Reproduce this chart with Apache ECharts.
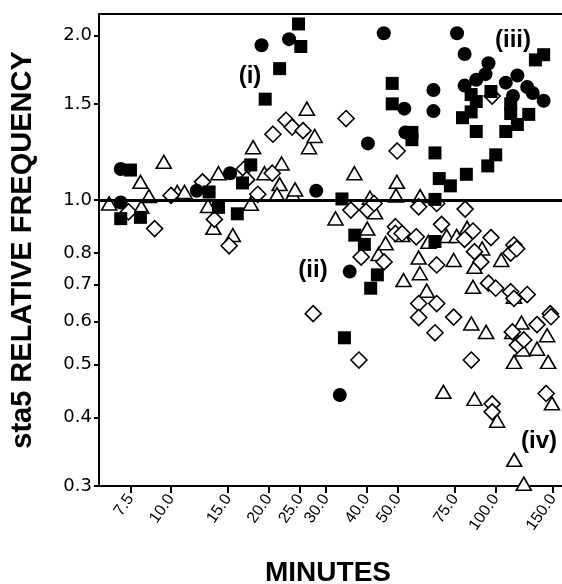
<!DOCTYPE html>
<html>
<head>
<meta charset="utf-8">
<script src="https://cdn.jsdelivr.net/npm/echarts@6/dist/echarts.min.js"></script>
<style>
html,body{margin:0;padding:0;background:#fff;}
#chart{width:562px;height:584px;}
</style>
</head>
<body>
<div id="chart"></div>
<script>
// ---- data (minutes, relative frequency) ----
const xTicks = [7.5, 10, 15, 20, 25, 30, 40, 50, 75, 100, 150];
const yTicks = [0.3, 0.4, 0.5, 0.6, 0.7, 0.8, 1.0, 1.5, 2.0];

const circleMin = [7.0, 7.0, 12.0, 15.2, 19.0, 23.1, 28.0, 33.1, 35.5, 40.4, 45.2, 52.3, 52.7, 64.3, 64.3, 76.0, 80.2, 80.2, 87.1, 93, 95, 107.4, 116.6, 125, 140.5, 113, 130];
const circleVal = [1.14, 0.99, 1.04, 1.12, 1.92, 1.97, 1.04, 0.44, 0.74, 1.27, 2.02, 1.47, 1.33, 1.59, 1.455, 2.02, 1.85, 1.62, 1.66, 1.70, 1.78, 1.64, 1.69, 1.61, 1.52, 1.55, 1.57];

const squareMin = [7.5, 7.0, 8.05, 13.1, 14.0, 16.0, 16.6, 17.6, 19.5, 21.6, 24.7, 25.1, 33.6, 34.2, 36.8, 39.4, 41.2, 43.2, 48.0, 48.0, 55.2, 55.2, 65, 65, 65, 67, 72.5, 81.2, 94.5, 100, 87.1, 79, 84, 87.1, 96.7, 107.4, 116.6, 126.4, 132.5, 140.5, 111.2, 111.2, 84];
const squareVal = [1.135, 0.925, 0.93, 1.035, 0.97, 0.944, 1.075, 1.16, 1.53, 1.74, 2.10, 1.91, 1.005, 0.56, 0.863, 0.83, 0.69, 0.73, 1.635, 1.50, 1.33, 1.29, 1.22, 1.003, 0.84, 1.095, 1.062, 1.115, 1.155, 1.21, 1.335, 1.415, 1.45, 1.515, 1.58, 1.335, 1.375, 1.435, 1.805, 1.845, 1.50, 1.44, 1.56];

const diamondMin = [7.4, 8.9, 10.0, 12.5, 13.6, 15.1, 16.8, 17.1, 18.5, 20.5, 20.6, 22.6, 23.6, 25.5, 27.4, 34.6, 35.8, 37.9, 38.5, 40.2, 42.2, 45.3, 49.1, 49.1, 51.5, 49.7, 56.9, 57.9, 57.9, 57.9, 65.8, 65.8, 65.8, 65, 68.1, 74.2, 80.5, 80.2, 84.1, 85.1, 86, 90, 96.7, 95, 100, 97.5, 97.5, 97.5, 111.2, 113.8, 113.8, 111.2, 116.0, 125, 112.5, 116.6, 122, 134, 147.2, 148, 143];
const diamondVal = [0.952, 0.887, 1.02, 1.08, 0.922, 0.825, 1.14, 1.09, 1.025, 1.12, 1.32, 1.40, 1.36, 1.34, 0.62, 1.41, 0.959, 0.51, 0.787, 0.959, 0.986, 0.771, 0.894, 0.869, 0.869, 1.23, 0.857, 0.972, 0.647, 0.61, 0.986, 0.761, 0.647, 0.572, 0.903, 0.611, 0.963, 0.848, 0.51, 0.878, 0.805, 0.771, 0.854, 0.705, 0.69, 0.424, 0.41, 1.55, 0.68, 0.661, 0.828, 0.80, 0.815, 0.672, 0.574, 0.543, 0.555, 0.592, 0.62, 0.612, 0.443];

const triangleMin = [6.45, 8.05, 8.1, 8.55, 9.5, 10.45, 11.0, 13.0, 13.5, 14.0, 15.5, 17.6, 17.9, 19.4, 21.9, 21.6, 21.2, 23.7, 24.1, 26.2, 26.6, 27.7, 32.1, 36.7, 40.2, 41.0, 42.5, 43.6, 45.8, 49.6, 49.3, 51.5, 52, 57.9, 58.4, 58.5, 61.3, 62, 70.6, 75.8, 74.2, 81.6, 86, 90.8, 104, 85.1, 113.8, 84.1, 93.4, 112.5, 120, 144, 113.8, 121, 134, 145, 69, 86, 101, 149, 114, 122];
const triangleVal = [0.986, 1.08, 0.972, 1.017, 1.175, 1.035, 1.035, 0.976, 0.89, 1.12, 0.863, 0.985, 1.25, 1.12, 1.167, 1.07, 1.025, 1.024, 1.046, 1.47, 1.25, 1.31, 0.926, 1.12, 0.887, 1.01, 0.95, 0.797, 0.834, 1.08, 1.02, 0.863, 0.714, 0.785, 0.735, 1.017, 0.683, 0.839, 0.86, 0.86, 0.777, 0.89, 0.755, 0.816, 0.777, 0.694, 0.666, 0.595, 0.574, 0.574, 0.597, 0.566, 0.506, 0.533, 0.535, 0.506, 0.446, 0.433, 0.395, 0.425, 0.335, 0.303];

const refLine = 1.0;
const xRange = [6.0, 160];
const yRange = [0.3, 2.19];

// ---- build ----
const L = Math.log10;
function pts(xs, ys) { return xs.map((x, i) => [L(x), L(ys[i])]); }
function fmt(v) { return Math.pow(10, v).toFixed(1); }

const chart = echarts.init(document.getElementById('chart'), null, {renderer: 'canvas'});
const FONT = '"Liberation Sans", Arial, Helvetica, sans-serif';
const WIDE = '"DejaVu Sans", Verdana, sans-serif';

const option = {
  backgroundColor: '#fff',
  animation: false,
  grid: {left: 93, right: 0, top: 14, bottom: 98, containLabel: false},
  xAxis: [{
    type: 'value',
    min: L(xRange[0]), max: L(xRange[1]),
    axisLine: {show: true, onZero: false, lineStyle: {color: '#000', width: 2}},
    axisTick: {show: true, customValues: xTicks.map(L), length: 7, lineStyle: {color: '#000', width: 2}},
    axisLabel: {customValues: xTicks.map(L), formatter: fmt, rotate: 55, color: '#000',
      fontFamily: FONT, fontSize: 16, margin: 10},
    splitLine: {show: false}
  }, {
    type: 'value', position: 'top',
    min: L(xRange[0]), max: L(xRange[1]),
    axisLine: {show: true, onZero: false, lineStyle: {color: '#000', width: 2}},
    axisTick: {show: false}, axisLabel: {show: false}, splitLine: {show: false}
  }],
  yAxis: {
    type: 'value',
    min: L(yRange[0]), max: L(yRange[1]),
    axisLine: {show: true, onZero: false, lineStyle: {color: '#000', width: 2}},
    axisTick: {show: true, customValues: yTicks.map(L), length: 5, lineStyle: {color: '#000', width: 2}},
    axisLabel: {customValues: yTicks.map(L), formatter: fmt, color: '#000',
      fontFamily: WIDE, fontSize: 18, margin: 7},
    splitLine: {show: false},
    name: 'sta5 RELATIVE FREQUENCY',
    nameLocation: 'middle', nameGap: 62, nameRotate: 90,
    nameTextStyle: {color: '#000', fontFamily: FONT, fontWeight: 'bold', fontSize: 29}
  },
  series: [
    {type: 'scatter', name: 'triangles', data: pts(triangleMin, triangleVal), symbol: 'triangle',
      symbolSize: [15, 13], itemStyle: {color: '#fff', borderColor: '#000', borderWidth: 1.6, opacity: 1}, z: 2,
      markLine: {silent: true, symbol: 'none', label: {show: false},
        lineStyle: {color: '#000', width: 3, type: 'solid', opacity: 1},
        data: [{yAxis: L(refLine)}]}},
    {type: 'scatter', name: 'diamonds', data: pts(diamondMin, diamondVal), symbol: 'diamond',
      symbolSize: 16, itemStyle: {color: '#fff', borderColor: '#000', borderWidth: 1.6, opacity: 1}, z: 3},
    {type: 'scatter', name: 'circles', data: pts(circleMin, circleVal), symbol: 'circle',
      symbolSize: 14, itemStyle: {color: '#000', opacity: 1}, z: 4},
    {type: 'scatter', name: 'squares', data: pts(squareMin, squareVal), symbol: 'rect',
      symbolSize: 13, itemStyle: {color: '#000', opacity: 1}, z: 5}
  ],
  graphic: [
    {type: 'text', x: 328, y: 573, style: {text: 'MINUTES', fill: '#000', font: 'bold 28px ' + FONT, textAlign: 'center', textVerticalAlign: 'middle'}},
    {type: 'text', x: 250, y: 76, style: {text: '(i)', fill: '#000', font: 'bold 24px ' + FONT, textAlign: 'center', textVerticalAlign: 'middle'}},
    {type: 'text', x: 313, y: 270, style: {text: '(ii)', fill: '#000', font: 'bold 24px ' + FONT, textAlign: 'center', textVerticalAlign: 'middle'}},
    {type: 'text', x: 513, y: 40, style: {text: '(iii)', fill: '#000', font: 'bold 24px ' + FONT, textAlign: 'center', textVerticalAlign: 'middle'}},
    {type: 'text', x: 539, y: 441, style: {text: '(iv)', fill: '#000', font: 'bold 24px ' + FONT, textAlign: 'center', textVerticalAlign: 'middle'}}
  ]
};
chart.setOption(option);
</script>
</body>
</html>
